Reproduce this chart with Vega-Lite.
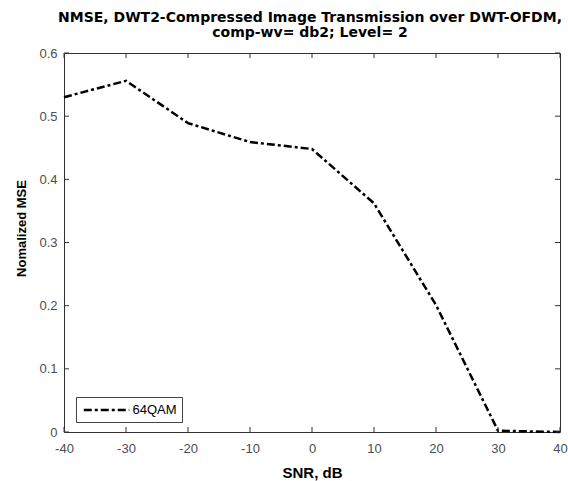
{
  "$schema": "https://vega.github.io/schema/vega-lite/v6.json",
  "width": 496,
  "height": 379,
  "autosize": {"type": "none"},
  "padding": {"left": 64, "top": 53, "right": 8, "bottom": 49},
  "background": "white",
  "title": {
    "text": ["NMSE, DWT2-Compressed Image Transmission over DWT-OFDM,", "comp-wv= db2; Level= 2"],
    "font": "DejaVu Sans",
    "fontSize": 14,
    "fontWeight": "bold",
    "color": "#000000",
    "lineHeight": 15,
    "anchor": "middle",
    "dx": -2,
    "offset": 7
  },
  "config": {
    "view": {"stroke": "#333333", "strokeWidth": 1},
    "axis": {
      "labelFont": "Liberation Sans",
      "labelFontSize": 13,
      "labelColor": "#4d4d4d",
      "titleFont": "Liberation Sans",
      "titleFontWeight": "bold",
      "titleColor": "#000000",
      "domain": false,
      "ticks": false,
      "grid": false
    }
  },
  "datasets": {
    "curve": [
      {"snr": -40, "nmse": 0.530, "series": "64QAM"},
      {"snr": -30, "nmse": 0.556, "series": "64QAM"},
      {"snr": -20, "nmse": 0.489, "series": "64QAM"},
      {"snr": -10, "nmse": 0.459, "series": "64QAM"},
      {"snr": 0, "nmse": 0.448, "series": "64QAM"},
      {"snr": 10, "nmse": 0.362, "series": "64QAM"},
      {"snr": 20, "nmse": 0.201, "series": "64QAM"},
      {"snr": 30, "nmse": 0.002, "series": "64QAM"},
      {"snr": 40, "nmse": 0.0, "series": "64QAM"}
    ],
    "xticks": [{"v": -40}, {"v": -30}, {"v": -20}, {"v": -10}, {"v": 0}, {"v": 10}, {"v": 20}, {"v": 30}, {"v": 40}],
    "yticks": [{"v": 0}, {"v": 0.1}, {"v": 0.2}, {"v": 0.3}, {"v": 0.4}, {"v": 0.5}, {"v": 0.6}]
  },
  "resolve": {"axis": {"x": "independent", "y": "independent"}},
  "layer": [
    {
      "data": {"name": "curve"},
      "mark": {"type": "line", "color": "#000000", "strokeWidth": 2.5},
      "encoding": {
        "x": {
          "field": "snr", "type": "quantitative",
          "scale": {"domain": [-40, 40], "nice": false, "zero": false},
          "axis": {"values": [-40, -30, -20, -10, 0, 10, 20, 30, 40], "labelExpr": "datum.value + ''", "title": "SNR, dB", "titleFontSize": 15, "titleBaseline": "alphabetic", "titleY": 45, "labelPadding": 10, "labelFlush": false}
        },
        "y": {
          "field": "nmse", "type": "quantitative",
          "scale": {"domain": [0, 0.6], "nice": false},
          "axis": {"values": [0, 0.1, 0.2, 0.3, 0.4, 0.5, 0.6], "format": ".1~f", "title": "Nomalized MSE", "titleFontSize": 13, "titleBaseline": "middle", "titleX": -43, "titleY": 175, "labelPadding": 7, "labelFlush": false}
        },
        "strokeDash": {
          "field": "series", "type": "nominal",
          "scale": {"range": [[8, 3, 3, 3]]},
          "legend": {
            "title": null,
            "orient": "none",
            "legendX": 12,
            "legendY": 344,
            "symbolType": "M-3.5,0H3.5",
            "symbolSize": 169,
            "symbolOffset": 17.5,
            "symbolStrokeWidth": 2.5,
            "symbolStrokeColor": "#000000",
            "labelOffset": 18,
            "labelFont": "Liberation Sans",
            "labelFontSize": 13,
            "labelColor": "#000000",
            "strokeColor": "#444444",
            "fillColor": "#ffffff",
            "padding": 5,
            "cornerRadius": 0
          }
        }
      }
    },
    {
      "data": {"name": "xticks"},
      "mark": {"type": "tick", "orient": "vertical", "color": "#333333", "size": 5, "thickness": 1, "yOffset": -2.5, "opacity": 1},
      "encoding": {
        "x": {"field": "v", "type": "quantitative", "axis": null},
        "y": {"datum": 0, "type": "quantitative", "axis": null}
      }
    },
    {
      "data": {"name": "xticks"},
      "mark": {"type": "tick", "orient": "vertical", "color": "#333333", "size": 5, "thickness": 1, "yOffset": 2.5, "opacity": 1},
      "encoding": {
        "x": {"field": "v", "type": "quantitative", "axis": null},
        "y": {"datum": 0.6, "type": "quantitative", "axis": null}
      }
    },
    {
      "data": {"name": "yticks"},
      "mark": {"type": "tick", "orient": "horizontal", "color": "#333333", "size": 5, "thickness": 1, "xOffset": 2.5, "opacity": 1},
      "encoding": {
        "y": {"field": "v", "type": "quantitative", "axis": null},
        "x": {"datum": -40, "type": "quantitative", "axis": null}
      }
    },
    {
      "data": {"name": "yticks"},
      "mark": {"type": "tick", "orient": "horizontal", "color": "#333333", "size": 5, "thickness": 1, "xOffset": -2.5, "opacity": 1},
      "encoding": {
        "y": {"field": "v", "type": "quantitative", "axis": null},
        "x": {"datum": 40, "type": "quantitative", "axis": null}
      }
    }
  ]
}
